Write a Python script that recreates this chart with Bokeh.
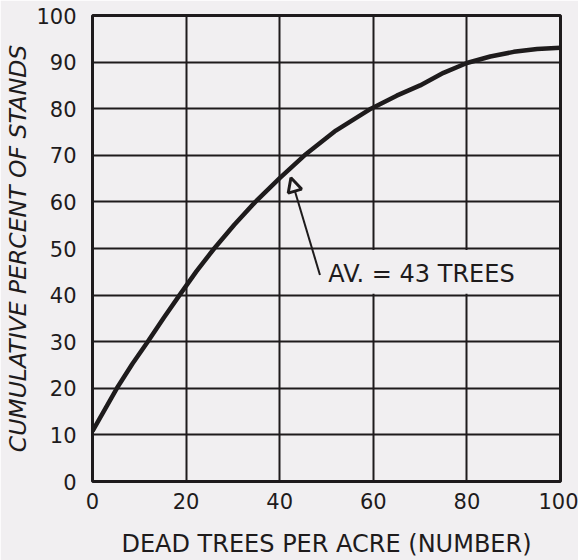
from bokeh.plotting import figure
from bokeh.models import FixedTicker, Arrow, NormalHead, Range1d
from bokeh.core.properties import value
from bokeh.embed import file_html
from bokeh.resources import INLINE

# Data
dead_trees = [0, 5.2, 8.5, 11.8, 15.2, 18.6, 22.2, 26.0, 30.3, 34.8, 40.0, 45.3,
              52.0, 59.5, 65.0, 70.0, 75.0, 80.0, 85.0, 90.0, 95.0, 100.0]
cum_percent = [10.8, 20.0, 25.2, 30.0, 35.1, 40.0, 45.1, 50.0, 55.1, 60.0, 65.1, 70.0,
               75.3, 80.0, 82.8, 85.0, 87.7, 89.8, 91.2, 92.2, 92.8, 93.1]
x_ticks = [0, 20, 40, 60, 80, 100]
y_ticks = [0, 10, 20, 30, 40, 50, 60, 70, 80, 90, 100]
average_trees = 43

BG = "#f1eff1"
INK = "#1e1b1c"
FONT = "DejaVu Sans"

p = figure(width=578, height=560, output_backend="svg", toolbar_location=None,
           x_range=Range1d(0, 100), y_range=Range1d(0, 100),
           min_border_left=92, min_border_right=18, min_border_top=15, min_border_bottom=79,
           background_fill_color=BG, border_fill_color=BG)

p.outline_line_color = INK
p.outline_line_width = 3

for ax in (p.xaxis[0], p.yaxis[0]):
    ax.axis_line_color = None
    ax.major_tick_line_color = None
    ax.minor_tick_line_color = None
    ax.major_label_text_font = FONT
    ax.major_label_text_font_size = "21px"
    ax.major_label_text_color = INK
    ax.axis_label_text_font = FONT
    ax.axis_label_text_color = INK

p.xaxis.ticker = FixedTicker(ticks=x_ticks)
p.yaxis.ticker = FixedTicker(ticks=y_ticks)
p.xaxis.axis_label = "DEAD TREES PER ACRE (NUMBER)"
p.yaxis.axis_label = "CUMULATIVE PERCENT OF STANDS"
p.yaxis.axis_label_text_font_style = "italic"
p.xaxis.axis_label_text_font_style = "normal"
p.xaxis.axis_label_text_font_size = "24px"
p.yaxis.axis_label_text_font_size = "23.5px"
p.xaxis.major_label_standoff = 5
p.xaxis.axis_label_standoff = 18
p.yaxis.major_label_standoff = 10
p.yaxis.axis_label_standoff = 1

p.xgrid.ticker = FixedTicker(ticks=x_ticks)
p.ygrid.ticker = FixedTicker(ticks=y_ticks)
for g in (p.xgrid[0], p.ygrid[0]):
    g.grid_line_color = INK
    g.grid_line_width = 2
    g.grid_line_alpha = 1

# blank area behind the annotation text (grid verticals interrupted there)
p.quad(left=[47.5], right=[99.3], bottom=[40.3], top=[49.7],
       fill_color=BG, line_color=None)

# the curve
p.line(dead_trees, cum_percent, line_color=INK, line_width=4.5)

# annotation
p.text(x=[50.4], y=[44.6], text=[f"AV. = {average_trees} TREES"],
       text_font=value(FONT), text_font_size="24px", text_color=INK,
       text_align="left", text_baseline="middle")
p.add_layout(Arrow(end=NormalHead(size=14, fill_color=BG, line_color=INK, line_width=3),
                   x_start=48.6, y_start=44.3, x_end=42.4, y_end=65.2,
                   line_color=INK, line_width=2))

open("out.html", "w").write(file_html(p, INLINE))
